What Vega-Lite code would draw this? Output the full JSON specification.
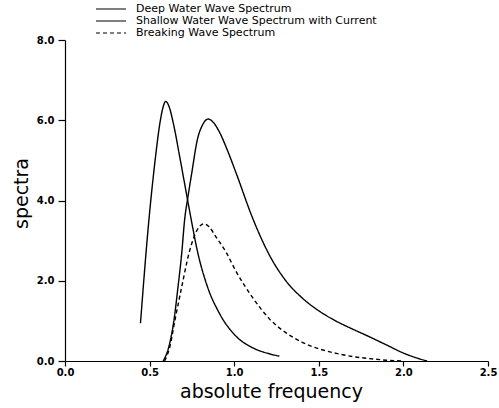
{
  "$schema": "https://vega.github.io/schema/vega-lite/v6.json",
  "width": 423,
  "height": 321,
  "autosize": {"type": "none"},
  "padding": {"left": 65, "top": 40, "right": 11, "bottom": 47},
  "background": "white",
  "config": {
    "view": {"stroke": null},
    "font": "DejaVu Sans",
    "axis": {"grid": false, "domainColor": "black", "tickColor": "black", "labelColor": "black", "titleColor": "black", "domainWidth": 1.2, "tickWidth": 1.2}
  },
  "data": {"values": [
    {"series": "Deep Water Wave Spectrum", "f": 0.446, "s": 0.94},
    {"series": "Deep Water Wave Spectrum", "f": 0.496, "s": 3.52},
    {"series": "Deep Water Wave Spectrum", "f": 0.535, "s": 5.09},
    {"series": "Deep Water Wave Spectrum", "f": 0.561, "s": 5.93},
    {"series": "Deep Water Wave Spectrum", "f": 0.578, "s": 6.3},
    {"series": "Deep Water Wave Spectrum", "f": 0.595, "s": 6.47},
    {"series": "Deep Water Wave Spectrum", "f": 0.616, "s": 6.33},
    {"series": "Deep Water Wave Spectrum", "f": 0.64, "s": 5.93},
    {"series": "Deep Water Wave Spectrum", "f": 0.678, "s": 5.09},
    {"series": "Deep Water Wave Spectrum", "f": 0.713, "s": 4.28},
    {"series": "Deep Water Wave Spectrum", "f": 0.747, "s": 3.5},
    {"series": "Deep Water Wave Spectrum", "f": 0.782, "s": 2.75},
    {"series": "Deep Water Wave Spectrum", "f": 0.842, "s": 1.85},
    {"series": "Deep Water Wave Spectrum", "f": 0.911, "s": 1.2},
    {"series": "Deep Water Wave Spectrum", "f": 1.01, "s": 0.62},
    {"series": "Deep Water Wave Spectrum", "f": 1.109, "s": 0.33},
    {"series": "Deep Water Wave Spectrum", "f": 1.208, "s": 0.18},
    {"series": "Deep Water Wave Spectrum", "f": 1.267, "s": 0.12},
    {"series": "Shallow Water Wave Spectrum with Current", "f": 0.58, "s": 0.0},
    {"series": "Shallow Water Wave Spectrum with Current", "f": 0.614, "s": 0.36},
    {"series": "Shallow Water Wave Spectrum with Current", "f": 0.644, "s": 1.02},
    {"series": "Shallow Water Wave Spectrum with Current", "f": 0.668, "s": 1.85},
    {"series": "Shallow Water Wave Spectrum with Current", "f": 0.69, "s": 2.69},
    {"series": "Shallow Water Wave Spectrum with Current", "f": 0.707, "s": 3.52},
    {"series": "Shallow Water Wave Spectrum with Current", "f": 0.727, "s": 4.1},
    {"series": "Shallow Water Wave Spectrum with Current", "f": 0.749, "s": 4.68},
    {"series": "Shallow Water Wave Spectrum with Current", "f": 0.782, "s": 5.51},
    {"series": "Shallow Water Wave Spectrum with Current", "f": 0.815, "s": 5.9},
    {"series": "Shallow Water Wave Spectrum with Current", "f": 0.846, "s": 6.03},
    {"series": "Shallow Water Wave Spectrum with Current", "f": 0.88, "s": 5.93},
    {"series": "Shallow Water Wave Spectrum with Current", "f": 0.911, "s": 5.72},
    {"series": "Shallow Water Wave Spectrum with Current", "f": 0.96, "s": 5.25},
    {"series": "Shallow Water Wave Spectrum with Current", "f": 1.01, "s": 4.7},
    {"series": "Shallow Water Wave Spectrum with Current", "f": 1.109, "s": 3.56},
    {"series": "Shallow Water Wave Spectrum with Current", "f": 1.208, "s": 2.64},
    {"series": "Shallow Water Wave Spectrum with Current", "f": 1.307, "s": 1.99},
    {"series": "Shallow Water Wave Spectrum with Current", "f": 1.405, "s": 1.56},
    {"series": "Shallow Water Wave Spectrum with Current", "f": 1.504, "s": 1.24},
    {"series": "Shallow Water Wave Spectrum with Current", "f": 1.604, "s": 0.99},
    {"series": "Shallow Water Wave Spectrum with Current", "f": 1.702, "s": 0.79},
    {"series": "Shallow Water Wave Spectrum with Current", "f": 1.801, "s": 0.6},
    {"series": "Shallow Water Wave Spectrum with Current", "f": 1.9, "s": 0.4},
    {"series": "Shallow Water Wave Spectrum with Current", "f": 1.999, "s": 0.2},
    {"series": "Shallow Water Wave Spectrum with Current", "f": 2.098, "s": 0.05},
    {"series": "Shallow Water Wave Spectrum with Current", "f": 2.14, "s": 0.0},
    {"series": "Breaking Wave Spectrum", "f": 0.589, "s": 0.0},
    {"series": "Breaking Wave Spectrum", "f": 0.62, "s": 0.36},
    {"series": "Breaking Wave Spectrum", "f": 0.65, "s": 1.02},
    {"series": "Breaking Wave Spectrum", "f": 0.69, "s": 1.85},
    {"series": "Breaking Wave Spectrum", "f": 0.733, "s": 2.69},
    {"series": "Breaking Wave Spectrum", "f": 0.763, "s": 3.1},
    {"series": "Breaking Wave Spectrum", "f": 0.795, "s": 3.35},
    {"series": "Breaking Wave Spectrum", "f": 0.822, "s": 3.42},
    {"series": "Breaking Wave Spectrum", "f": 0.855, "s": 3.33},
    {"series": "Breaking Wave Spectrum", "f": 0.891, "s": 3.1},
    {"series": "Breaking Wave Spectrum", "f": 0.951, "s": 2.72},
    {"series": "Breaking Wave Spectrum", "f": 1.01, "s": 2.24},
    {"series": "Breaking Wave Spectrum", "f": 1.109, "s": 1.58},
    {"series": "Breaking Wave Spectrum", "f": 1.208, "s": 1.05},
    {"series": "Breaking Wave Spectrum", "f": 1.307, "s": 0.7},
    {"series": "Breaking Wave Spectrum", "f": 1.405, "s": 0.46},
    {"series": "Breaking Wave Spectrum", "f": 1.504, "s": 0.3},
    {"series": "Breaking Wave Spectrum", "f": 1.604, "s": 0.19},
    {"series": "Breaking Wave Spectrum", "f": 1.702, "s": 0.11},
    {"series": "Breaking Wave Spectrum", "f": 1.8, "s": 0.06},
    {"series": "Breaking Wave Spectrum", "f": 1.9, "s": 0.02},
    {"series": "Breaking Wave Spectrum", "f": 2.0, "s": 0.0}
  ]},
  "mark": {"type": "line", "color": "black", "strokeWidth": 1.4, "interpolate": "monotone"},
  "encoding": {
    "x": {"field": "f", "type": "quantitative", "scale": {"domain": [0, 2.5], "nice": false},
      "axis": {"values": [0, 0.5, 1, 1.5, 2, 2.5], "format": ".1f", "title": "absolute frequency", "titleFontSize": 19, "titleFontWeight": "normal", "titleX": 206, "titleY": 36, "titleBaseline": "alphabetic", "labelFontSize": 10, "labelFontWeight": "bold", "tickSize": 5, "labelPadding": 1, "labelFlush": false}},
    "y": {"field": "s", "type": "quantitative", "scale": {"domain": [0, 8], "nice": false},
      "axis": {"values": [0, 2, 4, 6, 8], "format": ".1f", "title": "spectra", "titleFontSize": 19, "titleFontWeight": "normal", "titleX": -38, "titleY": 153, "titleAlign": "center", "titleBaseline": "alphabetic", "labelFontSize": 10, "labelFontWeight": "bold", "tickSize": 7, "labelPadding": 4, "labelFlush": false}},
    "strokeDash": {"field": "series", "type": "nominal",
      "scale": {"domain": ["Deep Water Wave Spectrum", "Shallow Water Wave Spectrum with Current", "Breaking Wave Spectrum"], "range": [[1, 0], [1, 0], [4, 3]]},
      "legend": {"orient": "none", "legendX": 40, "legendY": -37, "title": null, "padding": 0, "symbolType": "M-3,0L3,0", "symbolSize": 100, "symbolStrokeColor": "black", "symbolStrokeWidth": 1.2, "labelFontSize": 11, "labelColor": "black", "labelLimit": 0, "labelOffset": 19, "rowPadding": 1}}
  }
}
